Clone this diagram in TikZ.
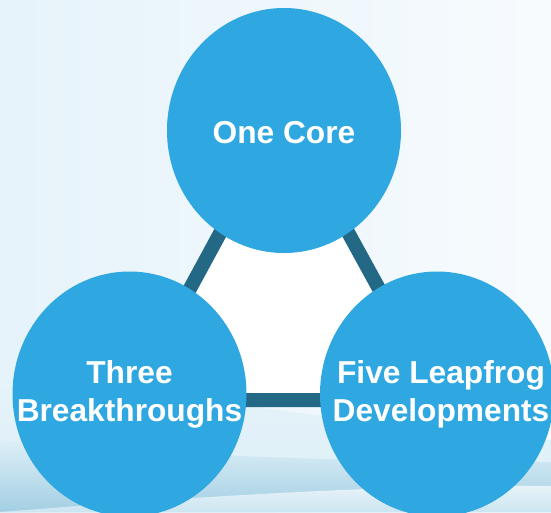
\documentclass[tikz,border=0pt]{standalone}
\usepackage{fontspec}
\setmainfont{Liberation Sans}
\usetikzlibrary{shapes.geometric}
\pgfdeclarelayer{bg}
\pgfsetlayers{bg,main}
\definecolor{qqaaee}{rgb}{0.18431,0.65490,0.87843}
\definecolor{ccggii}{rgb}{0.13725,0.40784,0.52157}
\definecolor{eeffff}{rgb}{0.90196,0.95294,0.98039}
\definecolor{ffffff}{rgb}{0.96863,0.98431,0.99608}
\definecolor{ddeeff}{rgb}{0.86667,0.93725,0.96863}
\definecolor{ccddee}{rgb}{0.76471,0.88235,0.93333}
\definecolor{aaddee}{rgb}{0.63922,0.81176,0.89020}
\tikzset{
  bubble/.style={ellipse,fill=qqaaee,minimum width=234pt,minimum height=245pt,inner sep=0pt},
  txt/.style={text=white,font=\bfseries\fontsize{31.7}{38}\selectfont,align=center}
}
\begin{document}
\begin{tikzpicture}[x=1pt,y=-1pt,line cap=round,line join=round]
    \clip (0,0) rectangle (551,512);
    \node[bubble,label={[txt,yshift=-2pt]center:One Core}] (core) at (284,130.5) {};
    \node[bubble,label={[txt]center:Three\\Breakthroughs}] (three) at (129.5,394) {};
    \node[bubble,label={[txt,xshift=4pt]center:Five Leapfrog\\Developments}] (five) at (437,394) {};
    \coordinate (apex) at ([yshift=15pt]core.center);
    \coordinate (lft) at ([yshift=-6pt]three.center);
    \coordinate (rgt) at ([xshift=3pt,yshift=-6pt]five.center);
    \begin{pgfonlayer}{bg}
    \shade[left color=eeffff,right color=ffffff] (0,0) rectangle (551,512);
    \shade[top color=eeffff,bottom color=ddeeff] (0,370) .. controls (150,390) and (350,425) .. (551,440) -- (551,512) -- (0,512) -- cycle;
    \shade[top color=ddeeff,bottom color=aaddee] (0,440) .. controls (150,455) and (350,462) .. (551,462) -- (551,512) -- (0,512) -- cycle;
    \shade[top color=white,bottom color=ddeeff,opacity=0.7] (0,512) .. controls (200,496) and (400,484) .. (551,486) -- (551,512) -- cycle;
    \filldraw[fill=white,draw=ccggii,line width=14pt] (apex) -- (lft) -- (rgt) -- cycle;
    \end{pgfonlayer}
\end{tikzpicture}
\end{document}
